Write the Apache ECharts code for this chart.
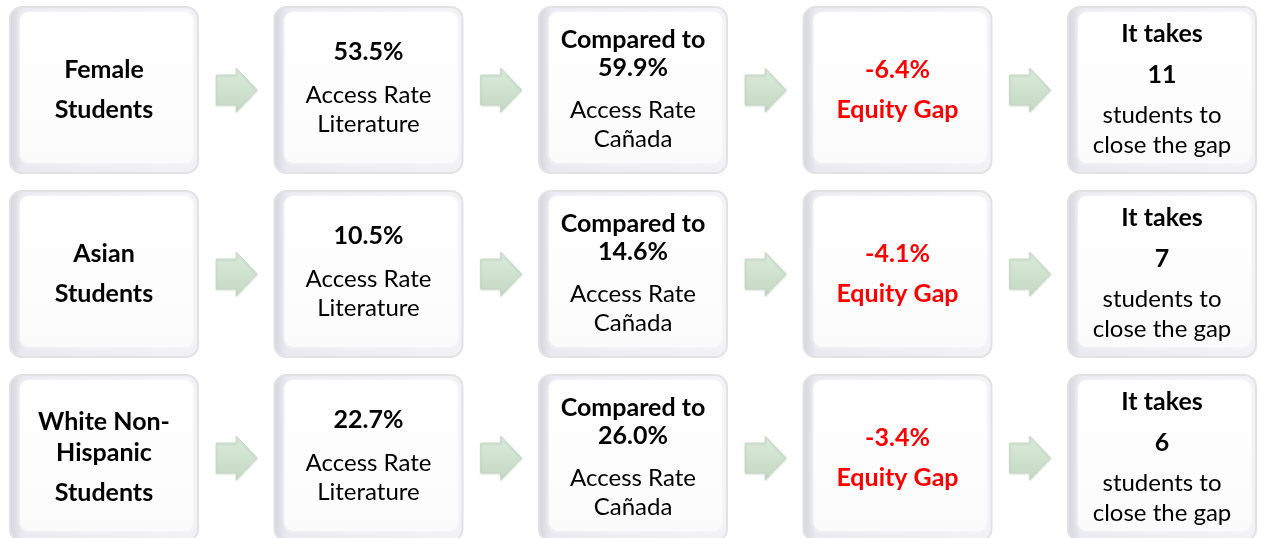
<!DOCTYPE html>
<html>
<head>
<meta charset="utf-8">
<script src="https://cdn.jsdelivr.net/npm/echarts@6/dist/echarts.min.js"></script>
<style>
    html, body { margin: 0; padding: 0; background: #fff; }
    #main { width: 1261px; height: 538px; }
</style>
</head>
<body>
<div id="main"></div>
<script>
// one row per student group
var groups = ['Female', 'Asian', 'White Non-\nHispanic'];
var litRate = [53.5, 10.5, 22.7];      // access rate, literature
var canadaRate = [59.9, 14.6, 26.0];   // access rate, Cañada
var equityGap = [-6.4, -4.1, -3.4];
var studentsNeeded = [11, 7, 6];

var BOX_W = 0.711;   // in column units
var BOX_H = 0.902;   // in row units
var FONT = 'Lato, "Open Sans", sans-serif';
var RED = '#ff0000';

function pct(v) { return v.toFixed(1) + '%'; }

// text lines of a cell: [text, offset from box top, bold, colour]
function cellLines(col, row) {
    if (col === 0) {
        var first = groups[row].split('\n');
        var span = 31 * (first.length - 1) + 40;
        var y0 = 82.5 - span / 2;
        var out = first.map(function (t, i) { return [t, y0 + 31 * i, true]; });
        out.push(['Students', y0 + span, true]);
        return out;
    }
    if (col === 1) {
        return [[pct(litRate[row]), 45, true], ['Access Rate', 88, false], ['Literature', 117, false]];
    }
    if (col === 2) {
        return [['Compared to', 33, true], [pct(canadaRate[row]), 61, true],
                ['Access Rate', 103, false], ['Cañada', 132, false]];
    }
    if (col === 3) {
        return [[pct(equityGap[row]), 63, true, RED], ['Equity Gap', 103, true, RED]];
    }
    return [['It takes', 27, true], [String(studentsNeeded[row]), 68, true],
            ['students to', 108, false], ['close the gap', 138, false]];
}

var boxData = [];
var arrowData = [];
groups.forEach(function (g, r) {
    for (var c = 0; c < 5; c++) {
        boxData.push([c, r]);
        if (c < 4) arrowData.push([c + 0.5, r]);
    }
});

function renderBox(params, api) {
    var col = api.value(0), row = api.value(1);
    var p = api.coord([col, row]);
    var s = api.size([BOX_W, BOX_H]);
    var x = p[0] - s[0] / 2, y = p[1] - s[1] / 2, w = s[0], h = s[1];
    var children = [
        {
            type: 'rect',
            shape: { x: x, y: y, width: w, height: h, r: 12 },
            style: {
                fill: new echarts.graphic.LinearGradient(0, 0, 1, 0, [
                    { offset: 0, color: '#d4d4de' },
                    { offset: 0.07, color: '#e9e9ef' },
                    { offset: 1, color: '#f2f2f5' }
                ]),
                stroke: '#e2e2e6',
                lineWidth: 2
            }
        },
        {
            type: 'rect',
            shape: { x: x + 10, y: y + 5, width: w - 15, height: h - 15, r: 9 },
            style: {
                fill: new echarts.graphic.LinearGradient(0, 0, 0, 1, [
                    { offset: 0, color: '#ffffff' },
                    { offset: 1, color: '#fbfbfc' }
                ]),
                shadowBlur: 4,
                shadowColor: 'rgba(255,255,255,0.9)'
            }
        }
    ];
    cellLines(col, row).forEach(function (l) {
        children.push({
            type: 'text',
            x: p[0],
            y: y + l[1],
            style: {
                text: l[0],
                fill: l[3] || '#000',
                font: (l[2] ? 'bold 25px ' : '24px ') + FONT,
                align: 'center',
                verticalAlign: 'middle'
            }
        });
    });
    return { type: 'group', children: children };
}

function renderArrow(params, api) {
    var p = api.coord([api.value(0), api.value(1)]);
    var pts = [[-20, -15], [0, -15], [0, -22], [21, 0], [0, 22], [0, 15], [-20, 15]];
    return {
        type: 'polygon',
        shape: { points: pts.map(function (q) { return [p[0] + q[0], p[1] + q[1]]; }) },
        style: {
            fill: new echarts.graphic.LinearGradient(0, 0, 0, 1, [
                { offset: 0, color: '#dcebdc' },
                { offset: 1, color: '#c3d8c3' }
            ]),
            stroke: '#c6dac6',
            lineWidth: 1,
            shadowBlur: 2,
            shadowColor: 'rgba(0,0,0,0.12)',
            shadowOffsetY: 1
        }
    };
}

var chart = echarts.init(document.getElementById('main'));
chart.setOption({
    animation: false,
    grid: { left: 0, right: 0, top: 0, bottom: 0 },
    xAxis: { type: 'value', min: -0.3932, max: 4.3743, show: false },
    yAxis: { type: 'value', min: -0.489, max: 2.4348, inverse: true, show: false },
    series: [
        { type: 'custom', renderItem: renderArrow, data: arrowData, silent: true },
        { type: 'custom', renderItem: renderBox, data: boxData, silent: true }
    ]
});
</script>
</body>
</html>
